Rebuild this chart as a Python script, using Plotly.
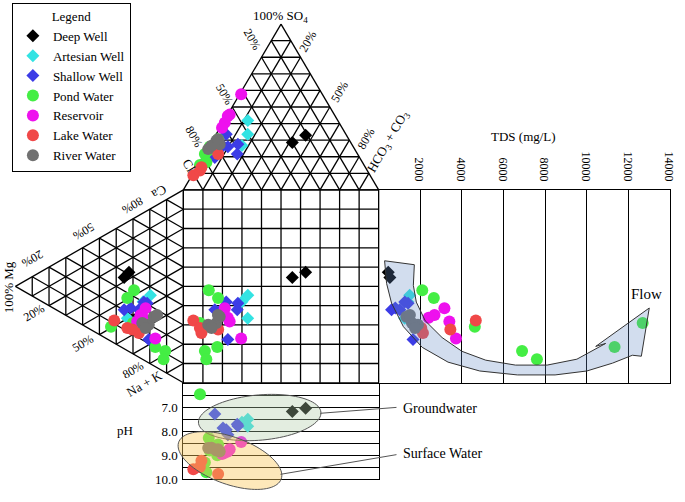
import numpy as np
import plotly.graph_objects as go

W, HPX = 685, 502
FONT = "Liberation Serif, Tinos, Times New Roman, Times, DejaVu Serif, serif"

# ---------------- data ----------------
groups = ["Deep Well", "Artesian Well", "Shallow Well", "Pond Water",
          "Reservoir", "Lake Water", "River Water"]
colors = ["#000000", "#33e3e3", "#3c3ce6", "#44ee44", "#ee11ee", "#f04848", "#717171"]
symbols = ["diamond", "diamond", "diamond", "circle", "circle", "circle", "circle"]

sample_group = (["Deep Well"] * 2 + ["Artesian Well"] * 3 + ["Shallow Well"] * 6 +
                ["Pond Water"] * 7 + ["Reservoir"] * 5 + ["Lake Water"] * 4 +
                ["River Water"] * 5)
# anions (% meq): SO4 and HCO3+CO3 (Cl is the remainder)
so4 = [28.6, 33.0,
       41.8, 33.5, 26.8,
       33.5, 27.6, 19.6, 21.6, 26.0, 26.6,
       24.0, 30.5, 21.6, 16.7, 27.5, 26.0, 15.0,
       40.5, 45.4, 57.7, 37.5, 44.5,
       8.8, 11.7, 13.7, 21.6,
       24.6, 29.6, 27.6, 26.6, 30.5]
hco3 = [41.5, 46.1,
        12.1, 16.2, 16.6,
        5.2, 14.1, 6.3, 16.8, 9.8, 7.0,
        1.0, 2.5, 0.2, 3.4, 3.6, 0.5, 1.0,
        0.95, 1.0, 0.75, 1.05, 0.5,
        0.7, 2.6, 2.4, 7.0,
        0.4, 2.1, 4.8, 1.1, 2.45]
# cations (% meq): Mg and Ca (Na+K is the remainder)
mg = [35.3, 32.4,
      19.6, 33.4, 24.0,
      23.5, 21.6, 35.3, 26.5, 20.6, 31.4,
      29.4, 33.4, 10.8, 11.8, 16.7, 43.1, 30.0,
      22.5, 27.5, 16.7, 25.5, 24.0,
      41.2, 33.4, 26.5, 30.4,
      20.6, 24.5, 17.6, 22.5, 15.7]
ca = [37.0, 41.1,
      35.6, 16.8, 30.0,
      30.2, 30.4, 20.2, 24.6, 12.1, 23.1,
      33.3, 27.3, 11.1, 6.3, 10.2, 7.5, 16.0,
      27.35, 18.05, 14.65, 22.45, 21.7,
      11.7, 11.7, 12.6, 12.4,
      19.8, 18.75, 25.5, 17.15, 27.35]
tds = [540, 460,
       1490, 1250, 1400,
       1254, 1413, 619, 1016, 1651, 800,
       2095, 2651, 6889, 7603, 11333, 4619, 12683,
       3159, 3397, 3714, 2683, 2400,
       4667, 2048, 2127, 3444,
       1889, 1600, 1333, 1750, 1500]
ph = [7.17, 7.03,
      7.49, 7.79, 7.62,
      7.93, 7.77, 7.27, 7.70, 8.14, 7.86,
      8.28, 8.55, 9.31, 9.72, 9.00, 8.80, 6.44,
      8.90, 8.75, 8.45, 8.95, 8.85,
      9.59, 9.50, 9.24, 9.79,
      8.70, 8.80, 8.85, 8.69, 8.75]

tds_ticks = [2000, 4000, 6000, 8000, 10000, 12000, 14000]
ph_ticks = [7.0, 8.0, 9.0, 10.0]
ph_ticktext = ["7.0", "8.0", "9.0", "10.0"]
ph_minor = [6.0, 6.5, 7.5, 8.5, 9.5]

# ---------------- geometry (diagram units; square = 0..100) ----------------
HT = 86.0
so4a, hco3a, mga, caa = map(np.array, (so4, hco3, mg, ca))
u_sq = 0.5 * so4a + hco3a          # projection of anion triangle
v_sq = 0.5 * mga + caa             # projection of cation triangle
top_x, top_y = u_sq, 100 + HT * so4a / 100
left_x, left_y = -HT * mga / 100, v_sq

fig = go.Figure()

# grid of the triangles and central square
gx, gy = [], []
def seg(x0, y0, x1, y1):
    gx.extend([x0, x1, None]); gy.extend([y0, y1, None])
for k in range(11):
    t = k / 10
    seg(10 * k, 0, 10 * k, 100)
    seg(0, 10 * k, 100, 10 * k)
    if k < 10:
        seg(50 * t, 100 + HT * t, 100 - 50 * t, 100 + HT * t)
        seg(100 * t, 100, 50 * (1 - t) + 100 * t, 100 + HT * (1 - t))
        seg(100 * (1 - t), 100, 50 * (1 - t), 100 + HT * (1 - t))
        seg(-HT * t, 50 * t, -HT * t, 100 - 50 * t)
        seg(0, 100 * t, -HT * (1 - t), 50 * (1 - t) + 100 * t)
        seg(0, 100 * (1 - t), -HT * (1 - t), 50 * (1 - t))
fig.add_trace(go.Scatter(x=gx, y=gy, mode="lines", line=dict(color="black", width=1.3),
                         hoverinfo="skip", showlegend=False))

sg = np.array(sample_group)
tdsa, pha = np.array(tds), np.array(ph)
for g, c, s in zip(groups, colors, symbols):
    m = sg == g
    size = 10 if s == "diamond" else 12
    mk = dict(color=c, symbol=s, size=size, line=dict(width=0))
    common = dict(mode="markers", marker=mk, legendgroup=g, name=g, cliponaxis=False)
    fig.add_trace(go.Scatter(x=top_x[m], y=top_y[m], showlegend=True, **common))
    fig.add_trace(go.Scatter(x=left_x[m], y=left_y[m], showlegend=False, **common))
    fig.add_trace(go.Scatter(x=u_sq[m], y=v_sq[m], showlegend=False, **common))
    fig.add_trace(go.Scatter(x=tdsa[m], y=v_sq[m], xaxis="x2", yaxis="y2",
                             showlegend=False, **common))
    fig.add_trace(go.Scatter(x=u_sq[m], y=pha[m], xaxis="x3", yaxis="y3",
                             showlegend=False, **common))

def fx(x): return x / W
def fy(y): return 1 - y / HPX

ux0, ux1 = -185 / 1.97, (W - 185) / 1.97
vy0, vy1 = (389 - HPX) / 1.96, 389 / 1.96
axfont = dict(family=FONT, size=12, color="black")

fig.update_layout(
    width=W, height=HPX, margin=dict(l=0, r=0, t=0, b=0),
    paper_bgcolor="white", plot_bgcolor="rgba(0,0,0,0)",
    font=dict(family=FONT, size=12, color="black"),
    xaxis=dict(range=[ux0, ux1], visible=False, domain=[0, 1]),
    yaxis=dict(range=[vy0, vy1], visible=False, domain=[0, 1]),
    xaxis2=dict(domain=[fx(382), fx(676)], range=[0, 14000], anchor="y2", side="top",
                tickvals=tds_ticks, ticktext=[str(v) for v in tds_ticks], tickangle=90,
                showgrid=True, gridcolor="black", gridwidth=1.3, zeroline=False,
                showline=True, mirror=True, linecolor="black", linewidth=1.3,
                ticks="", tickfont=axfont, ticklabeloverflow="allow",
                ticklabelshift=-1, ticklabelstandoff=3),
    yaxis2=dict(domain=[fy(389), fy(193)], range=[0, 100], anchor="x2",
                showticklabels=False, showgrid=False, zeroline=False, ticks="",
                showline=True, mirror=True, linecolor="black", linewidth=1.3),
    xaxis3=dict(domain=[fx(185), fx(382)], range=[0, 100], anchor="y3",
                showticklabels=False, showgrid=False, zeroline=False, ticks="",
                showline=True, mirror=True, linecolor="black", linewidth=1.3),
    yaxis3=dict(domain=[fy(486.7), fy(390)], range=[10, 6], anchor="x3",
                tickvals=ph_ticks, ticktext=ph_ticktext, showgrid=True,
                gridcolor="black", gridwidth=1.3, zeroline=False, ticks="",
                minor=dict(tickvals=ph_minor, showgrid=True, gridcolor="black",
                           gridwidth=1.3, ticks=""),
                showline=True, mirror=True, linecolor="black", linewidth=1.3,
                tickfont=dict(family=FONT, size=13, color="black"),
                ticklabelstandoff=2),
    legend=dict(x=fx(12), y=fy(3), xanchor="left", yanchor="top",
                bordercolor="black", borderwidth=1, bgcolor="white",
                font=dict(family=FONT, size=13, color="black"),
                title=dict(text="Legend", side="top center",
                           font=dict(family=FONT, size=13, color="black")),
                itemsizing="trace", tracegroupgap=0, itemwidth=30),
)

# ---------------- labels ----------------
labels = [
    ("100% SO<sub>4</sub>", 283, 17, 0, 13),
    ("20%", 254, 40, 60, 12), ("50%", 226, 96, 60, 12), ("80%", 196, 139, 60, 12),
    ("Cl", 191, 168, 60, 13),
    ("20%", 311, 42, -60, 12), ("50%", 342, 93, -60, 12), ("80%", 369, 141, -60, 12),
    ("HCO<sub>3</sub> + CO<sub>3</sub>", 392, 144, -60, 13),
    ("Ca", 160, 195, 150, 13), ("80%", 134, 209, 150, 12), ("50%", 84, 235, 150, 12),
    ("20%", 33, 263, 150, 12),
    ("100% Mg", 8, 292, -90, 13),
    ("20%", 34, 318, -30, 12), ("50%", 84, 349, -30, 12), ("80%", 134, 376, -30, 12),
    ("Na + K", 146, 390, -30, 13),
    ("TDS (mg/L)", 528, 139, 0, 13),
    ("pH", 126, 437, 0, 13),
    ("Flow", 652, 299, 0, 15),
]
for txt, x, y, ang, sz in labels:
    fig.add_annotation(text=txt, x=fx(x), y=fy(y), xref="paper", yref="paper",
                       showarrow=False, textangle=ang, xanchor="center", yanchor="middle",
                       font=dict(family=FONT, size=sz, color="black"))
for txt, x, y in [("Groundwater", 405, 415), ("Surface Water", 405, 461)]:
    fig.add_annotation(text=txt, x=fx(x), y=fy(y), xref="paper", yref="paper",
                       showarrow=False, xanchor="left", yanchor="middle",
                       font=dict(family=FONT, size=14, color="black"))

# ---------------- decorations: ellipses, leaders, flow arrow ----------------
def path_from(pts, close=True):
    s = "M " + " L ".join(f"{fx(x):.5f},{fy(y):.5f}" for x, y in pts)
    return s + (" Z" if close else "")

def ellipse(cx, cy, a, b, ang):
    th = np.radians(ang)
    t = np.linspace(0, 2 * np.pi, 90)
    xs = cx + a * np.cos(t) * np.cos(th) - b * np.sin(t) * np.sin(th)
    ys = cy + a * np.cos(t) * np.sin(th) + b * np.sin(t) * np.cos(th)
    return list(zip(xs, ys))

fig.add_shape(type="path", xref="paper", yref="paper", layer="above",
              path=path_from(ellipse(262, 424.3, 62, 23, -5)),
              fillcolor="rgba(175,204,166,0.35)", line=dict(color="#555555", width=1))
fig.add_shape(type="path", xref="paper", yref="paper", layer="above",
              path=path_from(ellipse(232, 468, 55, 24, 20)),
              fillcolor="rgba(250,200,90,0.42)", line=dict(color="#555555", width=1))
for (x0, y0), (x1, y1) in [((323, 420), (400, 414)), ((283, 482), (400, 462))]:
    fig.add_shape(type="line", xref="paper", yref="paper", x0=fx(x0), y0=fy(y0),
                  x1=fx(x1), y1=fy(y1), line=dict(color="#555555", width=1))

arrow = [(388, 265), (418, 269),
         (417, 290), (420, 307), (429, 326), (446, 343), (466, 357), (490, 366),
         (520, 371), (552, 371), (582, 365), (611, 349),
         (601, 352), (655, 313), (647, 362), (638, 361),
         (618, 369), (592, 377), (560, 381), (522, 381), (484, 377), (452, 368),
         (426, 353), (407, 332), (395, 308), (390, 288)]
fig.add_shape(type="path", xref="paper", yref="paper", layer="above",
              path=path_from(arrow), fillcolor="rgba(100,138,197,0.29)",
              line=dict(color="#333333", width=1))

fig.write_html("out.html", config={"displayModeBar": False},
               post_script="document.body.style.margin='0';"
                           "document.body.style.padding='0';"
                           "document.body.style.overflow='hidden';")
